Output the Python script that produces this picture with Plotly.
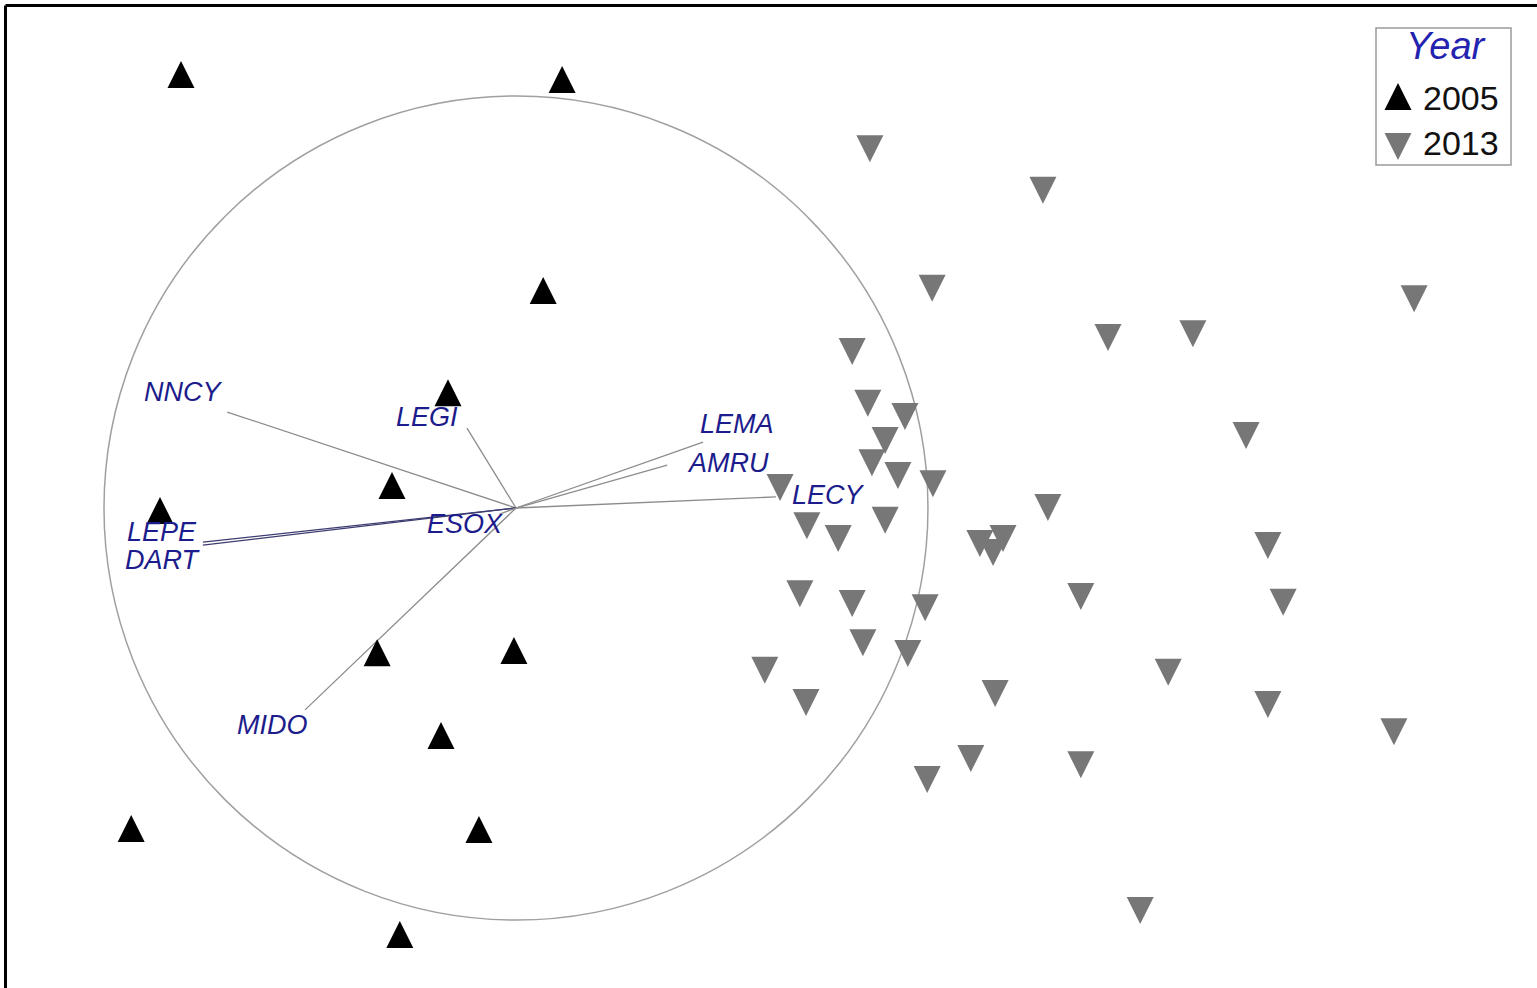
import plotly.graph_objects as go

# ---- NMDS site scores (axis 1, axis 2) ----
years = ["2005", "2013"]

mds1_2005 = [-0.813, 0.112, 0.066, -0.165, -0.301, -0.864, -0.337, -0.005,
             -0.182, -0.934, -0.090, -0.282]
mds2_2005 = [1.041, 1.029, 0.517, 0.269, 0.044, -0.017, -0.362, -0.357,
             -0.563, -0.789, -0.791, -1.046]

mds1_2013 = [0.859, 1.279, 1.010, 2.180, 1.437, 1.643, 0.816, 0.854, 0.944, 0.896,
             1.772, 0.864, 0.927, 1.012, 0.641, 1.291, 0.896, 0.706, 0.782, 1.126,
             1.182, 1.158, 1.825, 0.689, 0.816, 0.993, 1.371, 1.862, 0.842, 0.951,
             0.604, 1.583, 1.163, 0.704, 1.825, 2.131, 1.104, 1.371, 0.998, 1.515]
mds2_2013 = [0.883, 0.782, 0.544, 0.519, 0.425, 0.434, 0.391, 0.265, 0.233, 0.175,
             0.187, 0.121, 0.090, 0.070, 0.061, 0.012, -0.019, -0.032, -0.063, -0.075,
             -0.063, -0.097, -0.080, -0.197, -0.221, -0.231, -0.204, -0.218, -0.316, -0.342,
             -0.383, -0.388, -0.439, -0.461, -0.466, -0.532, -0.597, -0.612, -0.648, -0.966]

# ---- species correlation vectors ----
species = ["NNCY", "LEGI", "LEMA", "AMRU", "LECY", "LEPE", "DART", "ESOX", "MIDO"]
vec1 = [-0.701, -0.119, 0.454, 0.367, 0.631, -0.760, -0.760, -0.040, -0.512]
vec2 = [0.233, 0.194, 0.160, 0.104, 0.027, -0.083, -0.090, -0.015, -0.490]

# label placement next to each vector tip (pixels)
label_shift = {
    "NNCY": (-44, 20), "LEGI": (-40, 11), "LEMA": (34, 18), "AMRU": (61, 2),
    "LECY": (53, 2), "LEPE": (-41, 10), "DART": (-40, -15), "ESOX": (-35, -10),
    "MIDO": (-33, -15),
}

W, H = 1537, 988
X_RANGE = [-1.2524, 2.4782]
Y_RANGE = [-1.1650, 1.2330]

FONT = "Arial, Liberation Sans, sans-serif"
LABEL_BLUE = "#1c1c8c"
GREY_PTS = "#777777"
MSIZE = 27

fig = go.Figure()

# vectors from the origin
dark = {"LEPE", "DART"}
for name, vx, vy in zip(species, vec1, vec2):
    fig.add_trace(go.Scatter(
        x=[0, vx], y=[0, vy], mode="lines",
        line=dict(color="#3c3c70" if name in dark else "#8c8c8c", width=1.3),
        hoverinfo="skip", showlegend=False,
    ))

# sites, drawn as triangles centred on their centroid
def tri(angle):
    return dict(symbol="arrow-down", size=MSIZE, angle=angle,
                standoff=2 * MSIZE / 3, line=dict(width=0))

fig.add_trace(go.Scatter(
    x=mds1_2005, y=mds2_2005, mode="markers", name=years[0],
    marker=dict(color="black", **tri(180)), showlegend=False,
))
fig.add_trace(go.Scatter(
    x=mds1_2013, y=mds2_2013, mode="markers", name=years[1],
    marker=dict(color=GREY_PTS, **tri(0)), showlegend=False,
))

# legend keys on an overlay axis in paper fractions
key_x = [1398 / W, 1398 / W]
key_y = [1 - 101 / H, 1 - 142 / H]
fig.add_trace(go.Scatter(
    x=key_x[:1], y=key_y[:1], xaxis="x2", yaxis="y2", mode="markers",
    marker=dict(color="black", **tri(180)), hoverinfo="skip", showlegend=False,
))
fig.add_trace(go.Scatter(
    x=key_x[1:], y=key_y[1:], xaxis="x2", yaxis="y2", mode="markers",
    marker=dict(color=GREY_PTS, **tri(0)), hoverinfo="skip", showlegend=False,
))

annotations = []
for name, vx, vy in zip(species, vec1, vec2):
    dx, dy = label_shift[name]
    annotations.append(dict(
        x=vx, y=vy, xref="x", yref="y", text=name, showarrow=False,
        xshift=dx, yshift=dy, xanchor="center", yanchor="middle",
        font=dict(family=FONT, size=27, color=LABEL_BLUE, style="italic"),
    ))

# legend text
annotations.append(dict(
    x=1446 / W, y=1 - 46 / H, xref="paper", yref="paper", text="Year",
    showarrow=False, xanchor="center", yanchor="middle",
    font=dict(family=FONT, size=38, color="#2323b0", style="italic"),
))
for yr, ky in zip(years, [98, 143]):
    annotations.append(dict(
        x=1421 / W, y=1 - ky / H, xref="paper", yref="paper", text=yr,
        showarrow=False, xanchor="left", yanchor="middle",
        font=dict(family=FONT, size=34, color="#111111"),
    ))

shapes = [
    # unit correlation circle
    dict(type="circle", xref="x", yref="y", x0=-1, y0=-1, x1=1, y1=1,
         line=dict(color="#a0a0a0", width=1.5), layer="below"),
    # frame (top and left edges)
    dict(type="line", xref="paper", yref="paper", x0=5.5 / W, x1=1,
         y0=1 - 5.5 / H, y1=1 - 5.5 / H, line=dict(color="black", width=3)),
    dict(type="line", xref="paper", yref="paper", x0=5.5 / W, x1=5.5 / W,
         y0=0, y1=1 - 5.5 / H, line=dict(color="black", width=3)),
    # legend box
    dict(type="rect", xref="paper", yref="paper", x0=1376 / W, x1=1511 / W,
         y0=1 - 165 / H, y1=1 - 28 / H, line=dict(color="#9a9a9a", width=1.5),
         fillcolor="rgba(0,0,0,0)"),
]

hidden = dict(visible=False, showgrid=False, zeroline=False, fixedrange=True)
fig.update_layout(
    width=W, height=H, autosize=False,
    margin=dict(l=0, r=0, t=0, b=0, pad=0),
    paper_bgcolor="white", plot_bgcolor="white",
    xaxis=dict(range=X_RANGE, **hidden),
    yaxis=dict(range=Y_RANGE, **hidden),
    xaxis2=dict(range=[0, 1], overlaying="x", **hidden),
    yaxis2=dict(range=[0, 1], overlaying="y", **hidden),
    annotations=annotations, shapes=shapes, showlegend=False,
)

fig.write_html("out.html")
